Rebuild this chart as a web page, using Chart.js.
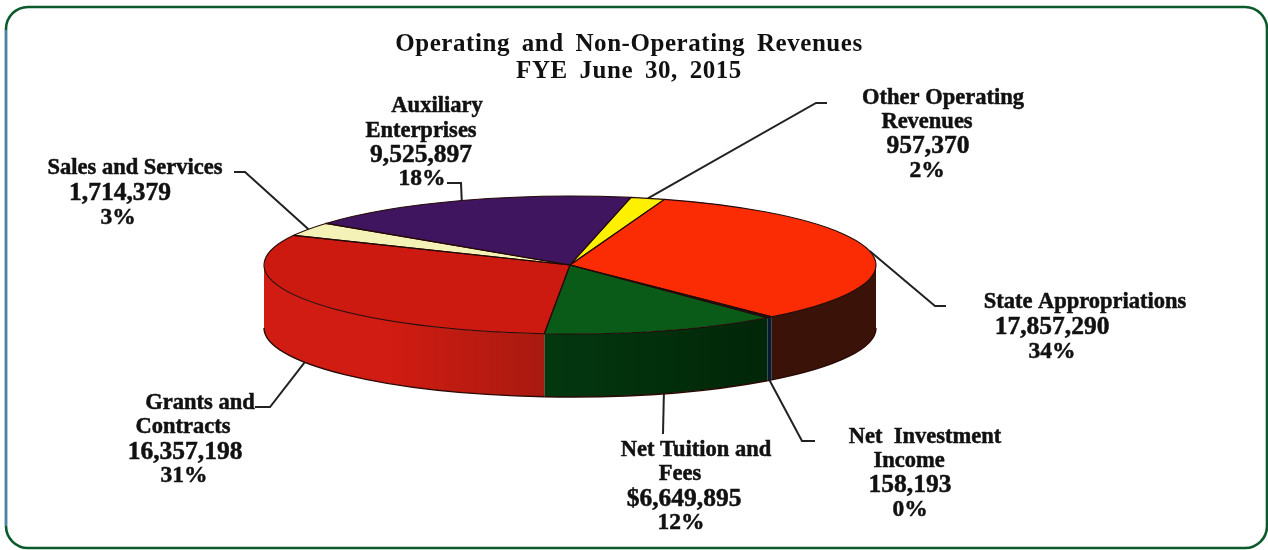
<!DOCTYPE html>
<html>
<head>
<meta charset="utf-8">
<style>html,body{margin:0;padding:0;background:#fff}canvas{display:block}</style>
<script src="https://cdn.jsdelivr.net/npm/chart.js@4"></script>
</head>
<body>
<canvas id="c" width="1268" height="550"></canvas>
<script>
// ---- data, clockwise from the yellow slice ----
const categories = ["Other Operating Revenues","State Appropriations","Net Investment Income","Net Tuition and Fees","Grants and Contracts","Sales and Services","Auxiliary Enterprises"];
const values = [957370,17857290,158193,6649895,16357198,1714379,9525897];
const labelNames = [["Other Operating","Revenues"],["State Appropriations"],["Net  Investment","Income"],["Net Tuition and","Fees"],["Grants and","Contracts"],["Sales and Services"],["Auxiliary","Enterprises"]];
const valuePrefixes = ["","","","$","","",""];
const titleLines = ["Operating and Non-Operating Revenues","FYE June 30, 2015"];

// ---- styling and layout ----
const topColors = ["#fdf000","#fb2c04","#10203a","#0a5a18","#cc1a10","#f5f2b8","#3f1560"];
const wallColors = [["#a09000","#a09000"],["#3a1208","#3a1208"],["#0a1a2e","#0a1a2e"],["#03380f","#012608"],["#d01c12","#a81a10"],["#aaa880","#aaa880"],["#2a0e40","#2a0e40"]];
const PIE = {cx:570, cy:265, rx:306, ry:69, depth:63, rotation:11.5};
const labelLayout = [
  {xs:[943,927,928,927], ys:[98,122,146,171], elbow:[[816,103],[827,103]], low:false, nudge:0},
  {xs:[1085,1052,1052], ys:[302,327,352], elbow:[[935,306],[946,306]], low:false, nudge:0},
  {xs:[925,909,910,910], ys:[437,461,485,510], elbow:[[802,441],[815,441]], low:true, nudge:0},
  {xs:[696,680,684,681], ys:[450,474,499,523], elbow:[[663,434]], low:true, nudge:1},
  {xs:[200,183,185,184], ys:[403,427,452,476], elbow:[[270,407],[255,407]], low:true, nudge:0},
  {xs:[135,120,118], ys:[168,193,218], elbow:[[245,172],[234,172]], low:false, nudge:0}, 
  {xs:[437,421,421,422], ys:[106,131,155,179], elbow:[[461,183],[447,183]], low:false, nudge:0}
];
const total = values.reduce((a,b)=>a+b,0);

const pie3d = {
  id:'pie3d',
  beforeDraw(chart){
    const ctx = chart.ctx;
    ctx.save();
    const x0=6,y0=7,x1=1267,y1=548,r=22;
    ctx.beginPath();
    ctx.moveTo(x0+r,y0);ctx.lineTo(x1-r,y0);ctx.arcTo(x1,y0,x1,y0+r,r);
    ctx.lineTo(x1,y1-r);ctx.arcTo(x1,y1,x1-r,y1,r);ctx.lineTo(x0+r,y1);
    ctx.arcTo(x0,y1,x0,y1-r,r);ctx.lineTo(x0,y0+r);ctx.arcTo(x0,y0,x0+r,y0,r);ctx.closePath();
    ctx.strokeStyle='#0b5a2c';ctx.lineWidth=2.6;ctx.stroke();
    ctx.beginPath();ctx.moveTo(6,30);ctx.lineTo(6,526);ctx.strokeStyle='#4f86c8';ctx.lineWidth=1.8;ctx.stroke();
    ctx.restore();
    ctx.wordSpacing='5px';
    ctx.letterSpacing='0.55px';
  },
  beforeDatasetsDraw(chart){
    const ctx = chart.ctx, arcs = chart.getDatasetMeta(0).data;
    ctx.wordSpacing='0px';ctx.letterSpacing='0px';
    const {cx,cy,rx,ry,depth} = PIE;
    arcs.forEach((a,i)=>{
      for(const k of [-2,0,2]){
        const s=Math.max(a.startAngle+k*Math.PI,0), e=Math.min(a.endAngle+k*Math.PI,Math.PI);
        if(e<=s) continue;
        ctx.beginPath();
        ctx.ellipse(cx,cy,rx,ry,0,s,e);
        ctx.ellipse(cx,cy+depth,rx,ry,0,e,s,true);
        ctx.closePath();
        const g=ctx.createLinearGradient(cx+rx*Math.cos(e),0,cx+rx*Math.cos(s),0);
        g.addColorStop(0,wallColors[i][0]);
        g.addColorStop(i===4?0.45:0,wallColors[i][0]);
        g.addColorStop(1,wallColors[i][1]);
        ctx.fillStyle=g;ctx.fill();
        ctx.beginPath();ctx.ellipse(cx,cy+depth,rx,ry,0,s,e);
        ctx.strokeStyle='#2a0a05';ctx.lineWidth=1.4;ctx.stroke();
      }
    });
    ctx.save();
    const a0=arcs[0];
    ctx.translate(cx,cy);
    ctx.scale(rx/a0.outerRadius,ry/a0.outerRadius);
    ctx.translate(-a0.x,-a0.y);
  },
  afterDatasetsDraw(chart){
    const ctx = chart.ctx, arcs = chart.getDatasetMeta(0).data;
    ctx.restore();
    const {cx,cy,rx,ry,depth} = PIE;
    ctx.save();
    arcs.forEach((a,i)=>{
      ctx.beginPath();
      ctx.moveTo(cx,cy);
      ctx.ellipse(cx,cy,rx,ry,0,a.startAngle,a.endAngle);
      ctx.closePath();
      ctx.strokeStyle='#240a08';ctx.lineWidth=1.1;ctx.lineJoin='round';ctx.stroke();
    });
    ctx.fillStyle='#111';
    arcs.forEach((a,i)=>{
      const L=labelLayout[i], mid=(a.startAngle+a.endAngle)/2;
      const ax=cx+rx*Math.cos(mid)+L.nudge, ay=cy+ry*Math.sin(mid)+(L.low?depth:0);
      ctx.beginPath();ctx.moveTo(ax,ay);
      L.elbow.forEach(p=>ctx.lineTo(p[0],p[1]));
      ctx.strokeStyle='#222';ctx.lineWidth=2;ctx.lineJoin='miter';ctx.stroke();
      const names=labelNames[i];
      const lines=[...names, valuePrefixes[i]+values[i].toLocaleString('en-US'), Math.round(values[i]/total*100)+'%'];
      ctx.textAlign='center';ctx.textBaseline='middle';
      ctx.strokeStyle='#111';ctx.lineWidth=0.5;
      lines.forEach((t,j)=>{
        const size = j<names.length ? 22.5 : (j===names.length ? 25.5 : 23.5);
        ctx.font='bold '+size+'px "Liberation Serif"';
        ctx.strokeText(t,L.xs[j],L.ys[j]);ctx.fillText(t,L.xs[j],L.ys[j]);
      });
    });
    ctx.restore();
  }
};

new Chart(document.getElementById('c'),{
  type:'pie',
  data:{labels:categories,datasets:[{data:values,backgroundColor:topColors,borderWidth:0,clip:false}]},
  options:{
    responsive:false,animation:false,
    rotation:PIE.rotation,radius:100,
    layout:{padding:{right:10}},
    events:[],
    plugins:{
      legend:{display:false},tooltip:{enabled:false},
      title:{display:true,fullSize:false,text:titleLines,color:'#111',
        font:{family:'"Liberation Serif"',size:25,weight:'bold',lineHeight:1.08},
        padding:{top:31,bottom:0}}
    }
  },
  plugins:[pie3d]
});
</script>
</body>
</html>
